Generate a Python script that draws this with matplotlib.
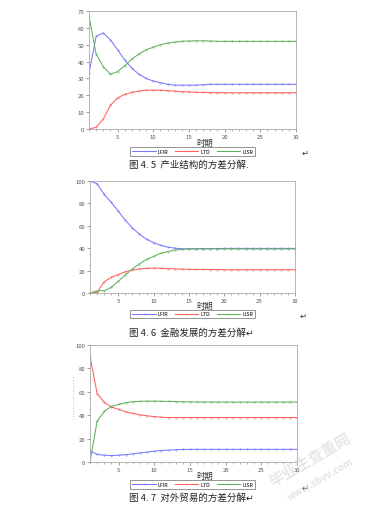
import matplotlib
matplotlib.use("Agg")
import matplotlib.pyplot as plt
from matplotlib.ticker import MultipleLocator

plt.rcParams['font.family'] = ['Noto Sans CJK SC', 'DejaVu Sans']

periods = list(range(1, 31))

# 图4.5 产业结构
ind_lfir = [33, 55, 57, 53, 47, 41, 36, 32.5, 30, 28.5, 27.5, 26.5, 26, 26, 26,
            26, 26.3, 26.5, 26.5, 26.5, 26.5, 26.5, 26.5, 26.5, 26.5, 26.5, 26.5, 26.5, 26.5, 26.5]
ind_ltd = [0, 1, 6, 14, 18.5, 20.5, 21.8, 22.5, 23, 23, 23, 22.8, 22.5, 22.2, 22,
           21.8, 21.7, 21.6, 21.5, 21.5, 21.5, 21.5, 21.5, 21.5, 21.5, 21.5, 21.5, 21.5, 21.5, 21.5]
ind_lisr = [67, 44.5, 37, 32.5, 34, 37.5, 41.5, 44.5, 47, 48.5, 50, 51, 51.5, 52, 52.2,
            52.3, 52.3, 52.2, 52, 52, 52, 52, 52, 52, 52, 52, 52, 52, 52, 52]

# 图4.6 金融发展
fin_lfir = [100, 97.5, 88, 81, 73, 65, 58, 52.5, 48, 45, 42.5, 41, 40, 39.5, 39.5,
            39.5, 39.6, 39.7, 39.7, 39.8, 39.8, 39.8, 39.8, 39.8, 39.8, 39.8, 39.8, 39.8, 39.8, 39.8]
fin_ltd = [0, 0.5, 10, 14, 16.5, 19, 20.5, 21.5, 22, 22.3, 22, 21.8, 21.5, 21.3, 21.2,
           21, 21, 20.9, 20.9, 20.8, 20.8, 20.8, 20.8, 20.8, 20.8, 20.8, 20.8, 20.8, 20.8, 20.8]
fin_lisr = [0, 2, 2, 5, 10.5, 16, 21.5, 26, 30, 32.7, 35.5, 37, 38.3, 39, 39.3,
            39.4, 39.4, 39.4, 39.4, 39.4, 39.4, 39.4, 39.4, 39.4, 39.4, 39.4, 39.4, 39.4, 39.4, 39.4]

# 图4.7 对外贸易
trd_lfir = [9.5, 6.5, 5.8, 5.5, 5.8, 6.3, 7, 7.8, 8.5, 9.2, 9.8, 10.2, 10.5, 10.7, 10.8,
            10.8, 10.8, 10.8, 10.8, 10.8, 10.8, 10.8, 10.8, 10.8, 10.8, 10.8, 10.8, 10.8, 10.8, 10.8]
trd_ltd = [90.5, 58.5, 51, 47, 45, 43, 41.5, 40.3, 39.5, 38.8, 38.3, 38, 38, 38, 38,
           38, 38, 38, 38, 38, 38, 38, 38, 38, 38, 38, 38, 38, 38, 38]
trd_lisr = [0, 35, 43.2, 47.5, 49.2, 50.7, 51.5, 51.9, 52, 52, 51.9, 51.8, 51.6, 51.5, 51.4,
            51.3, 51.3, 51.2, 51.2, 51.2, 51.2, 51.2, 51.2, 51.2, 51.2, 51.2, 51.2, 51.2, 51.2, 51.2]

series_names = ["LFIR", "LTD", "LISR"]
colors = ["#7878ff", "#ff6060", "#60b060"]

W, H = 375, 510
fig = plt.figure(figsize=(W / 100, H / 100), dpi=100)

def px_axes(left, top, right, bottom):
    return fig.add_axes([left / W, (H - bottom) / H, (right - left) / W, (bottom - top) / H])

def fig_text(x, y, s, **kw):
    fig.text(x / W, (H - y) / H, s, **kw)

charts = [
    ((89, 12, 296, 130), 70, 10, [ind_lfir, ind_ltd, ind_lisr], 143, 152.5, 165,
     "图 4. 5  产业结构的方差分解.", (305, 153)),
    ((90, 182, 295, 294), 100, 20, [fin_lfir, fin_ltd, fin_lisr], 306, 315, 333,
     "图 4. 6  金融发展的方差分解↵", (303, 316)),
    ((90, 346, 297, 463), 100, 20, [trd_lfir, trd_ltd, trd_lisr], 476, 485.5, 498,
     "图 4. 7  对外贸易的方差分解↵", (305, 488)),
]

for box, ymax, ystep, data, xl_y, leg_y, cap_y, caption, arrow in charts:
    ax = px_axes(*box)
    handles = []
    for vals, c, name in zip(data, colors, series_names):
        h, = ax.plot(periods, vals, color=c, lw=0.75, marker='o', ms=1.0,
                     mec=c, mfc='none', mew=0.35, label=name)
        handles.append(h)
    ax.set_xlim(1, 30)
    ax.set_ylim(0, ymax)
    ax.xaxis.set_major_locator(MultipleLocator(5))
    ax.xaxis.set_minor_locator(MultipleLocator(1))
    ax.yaxis.set_major_locator(MultipleLocator(ystep))
    ax.tick_params(labelsize=4.3, colors='#555555', length=2, width=0.4, pad=1.5)
    ax.tick_params(which='minor', length=1.2, width=0.4, colors='#777777')
    for sp in ax.spines.values():
        sp.set_color('#aaaaaa')
        sp.set_linewidth(0.6)
    fig_text(205, xl_y, "时期", fontsize=6, ha='center', va='center', color='#333333')
    fig.legend(handles=handles, labels=series_names, ncol=3, fontsize=3.8,
               loc='center', bbox_to_anchor=(192.5 / W, (H - leg_y) / H),
               frameon=True, fancybox=False, edgecolor='#444444', handlelength=4.5,
               handletextpad=0.4, columnspacing=1.2, borderpad=0.3,
               markerscale=0.8).get_frame().set_linewidth(0.5)
    fig_text(129, cap_y, caption, fontsize=6.8, ha='left', va='center', color='#222222')
    fig_text(arrow[0], arrow[1], "↵", fontsize=6, ha='center', va='center', color='#333333')

# left margin dotted mark
fig.add_artist(plt.Line2D([72.5 / W, 72.5 / W], [(H - 378) / H, (H - 420) / H],
                          color='#888888', lw=0.5, ls=(0, (1, 3))))

# watermark
fig_text(310, 460, "毕业生查重网", fontsize=11, rotation=30, ha='center', va='center',
         color='#d8d8d8', alpha=0.6, fontweight='bold')
fig_text(320, 480, "www.sbvv.com", fontsize=7, rotation=30, ha='center', va='center',
         color='#d8d8d8', alpha=0.7, fontweight='bold')

fig.savefig("out.png", dpi=100)
